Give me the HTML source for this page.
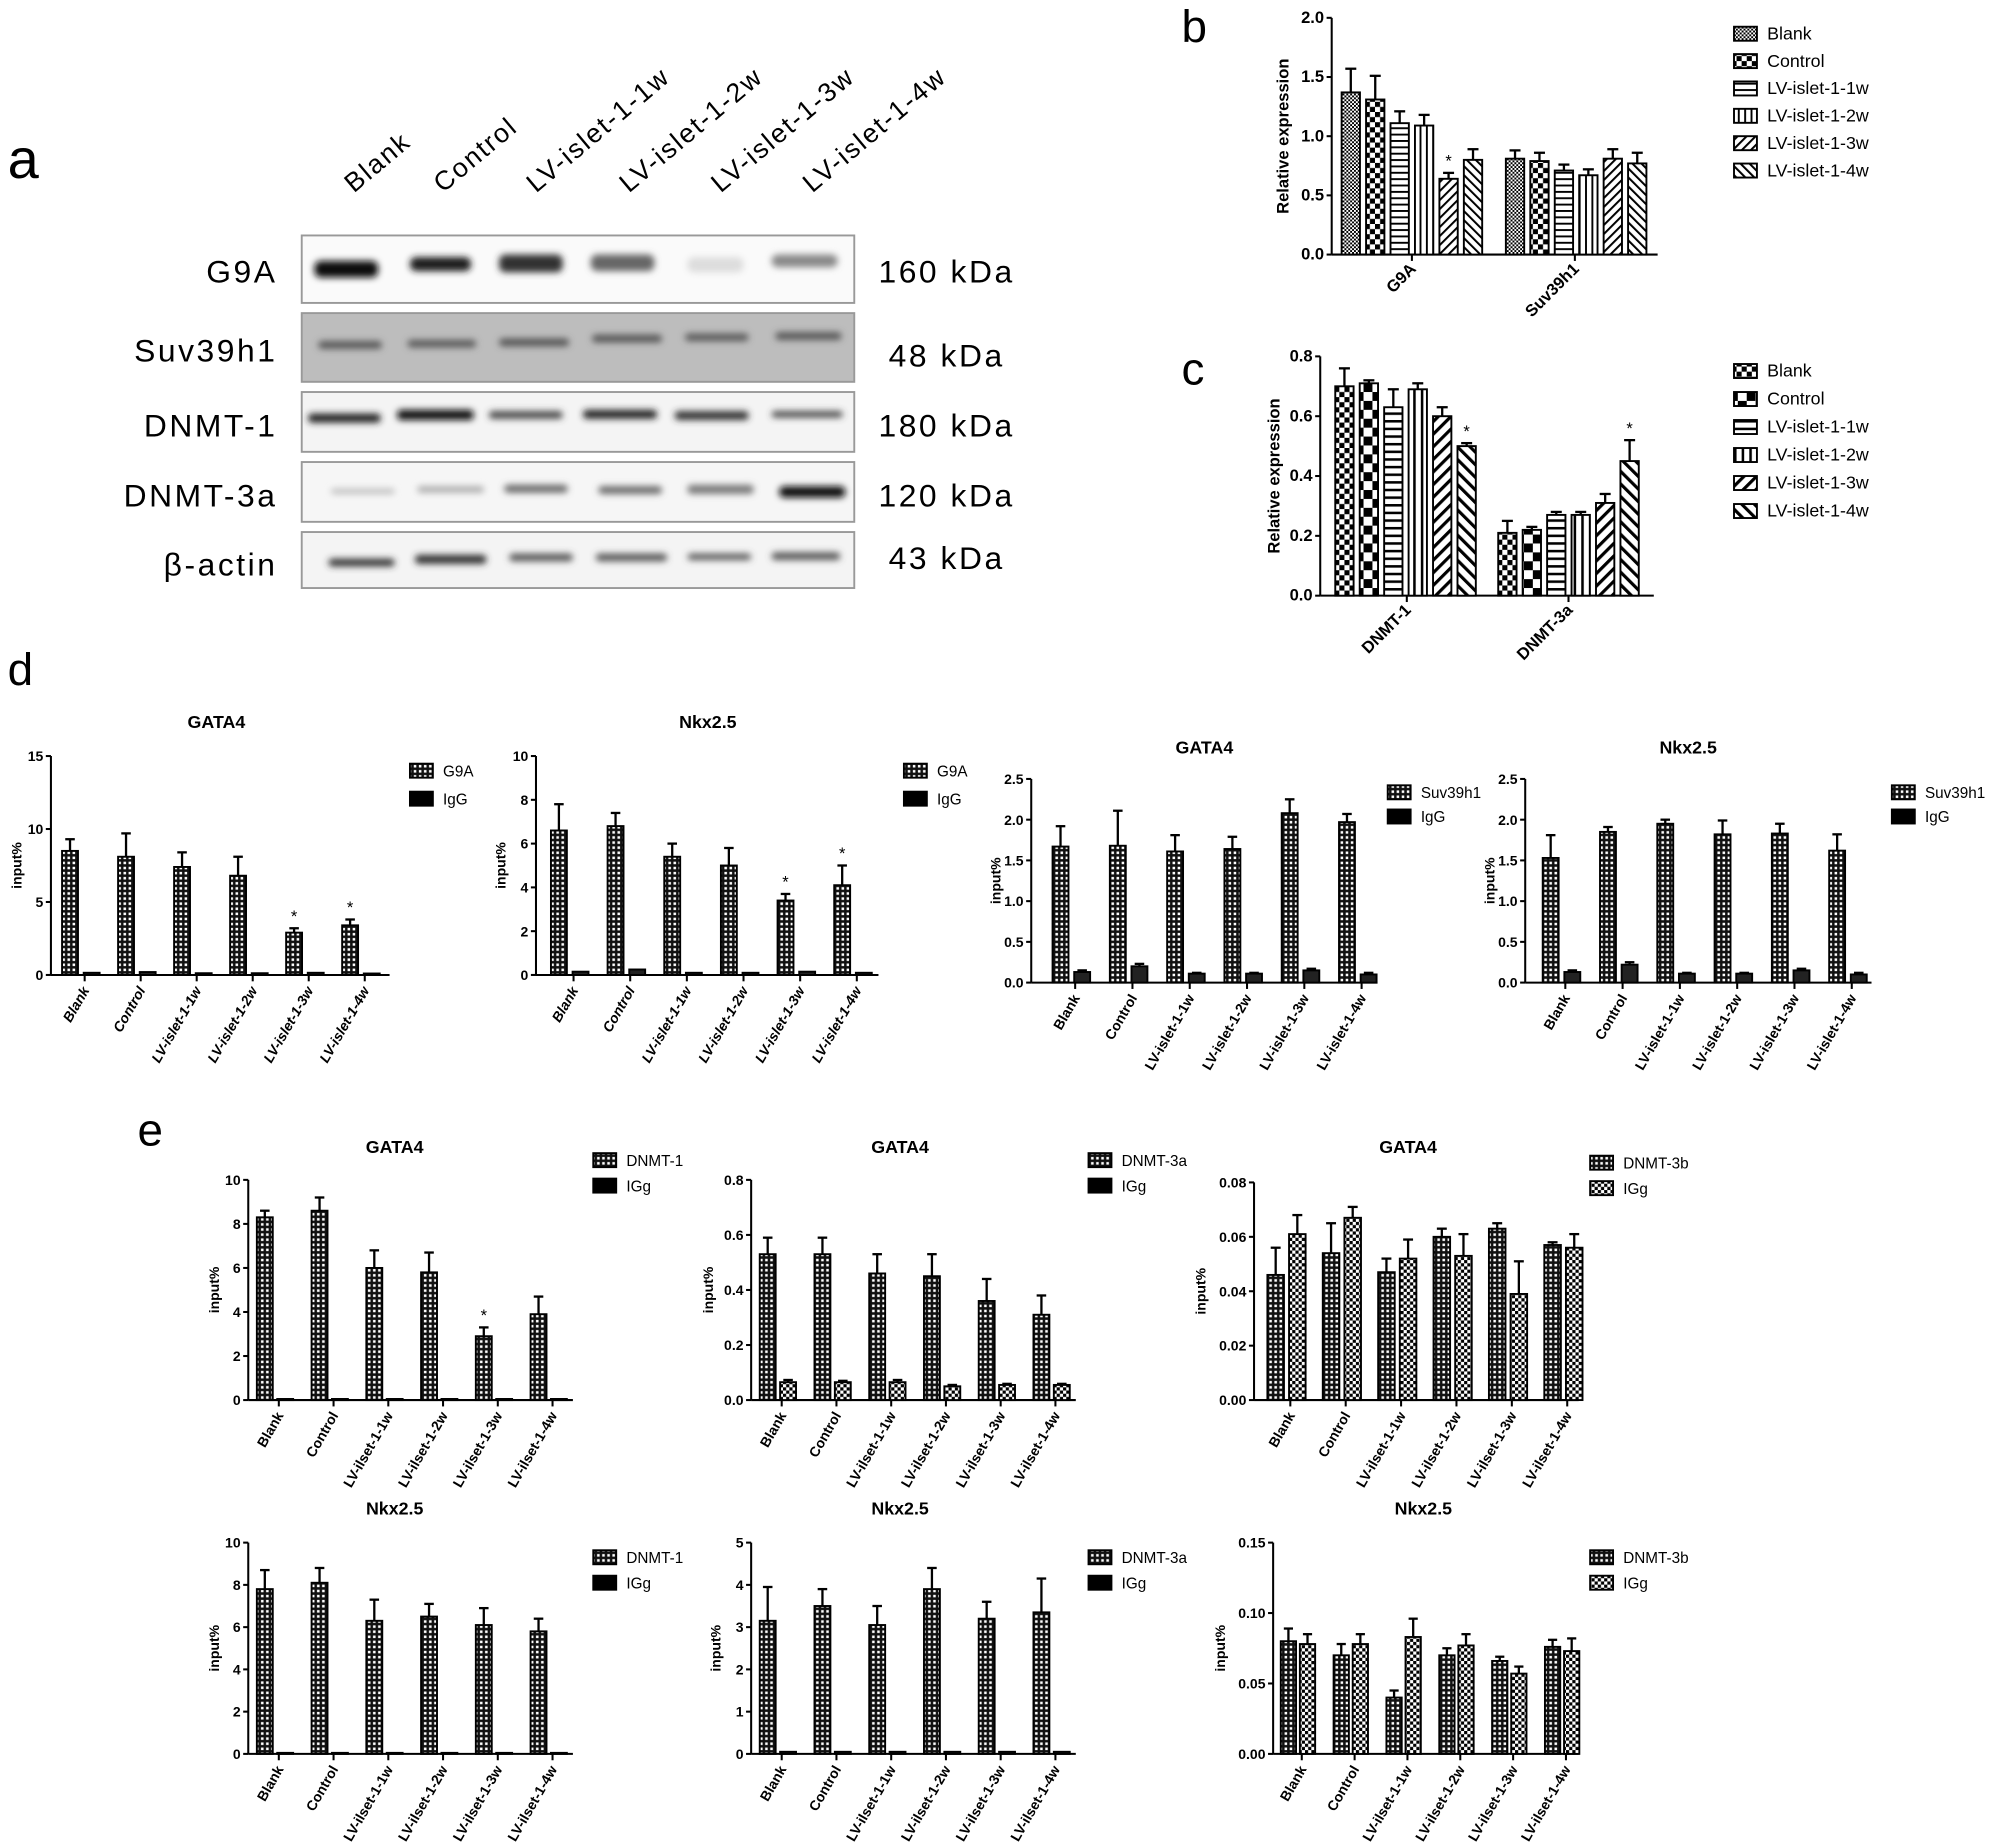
<!DOCTYPE html>
<html><head><meta charset="utf-8">
<style>
html,body{margin:0;padding:0;background:#fff;}
svg{display:block;font-family:"Liberation Sans",Arial,sans-serif;}
</style></head>
<body>
<svg id="s" width="1995" height="1843" viewBox="0 0 1567 1448" preserveAspectRatio="none" xmlns="http://www.w3.org/2000/svg">
<defs>
<pattern id="fine" width="3" height="3" patternUnits="userSpaceOnUse"><rect width="3" height="3" fill="#fff"/><rect width="1.5" height="1.5" fill="#000"/><rect x="1.5" y="1.5" width="1.5" height="1.5" fill="#000"/></pattern>
<pattern id="chk" width="5" height="5" patternUnits="userSpaceOnUse"><rect width="5" height="5" fill="#fff"/><rect width="2.5" height="2.5" fill="#000"/><rect x="2.5" y="2.5" width="2.5" height="2.5" fill="#000"/></pattern>
<pattern id="chk8" width="8" height="8" patternUnits="userSpaceOnUse"><rect width="8" height="8" fill="#fff"/><rect width="4" height="4" fill="#000"/><rect x="4" y="4" width="4" height="4" fill="#000"/></pattern>
<pattern id="chk12" width="14" height="14" patternUnits="userSpaceOnUse"><rect width="14" height="14" fill="#fff"/><rect width="7" height="7" fill="#000"/><rect x="7" y="7" width="7" height="7" fill="#000"/></pattern>
<pattern id="dot" width="4" height="4" patternUnits="userSpaceOnUse"><rect width="4" height="4" fill="#111"/><rect x="1" y="1" width="2" height="2" fill="#fff"/></pattern>
<pattern id="hl" width="6" height="5" patternUnits="userSpaceOnUse"><rect width="6" height="5" fill="#fff"/><rect y="0" width="6" height="1.5" fill="#000"/></pattern>
<pattern id="vl" width="5" height="6" patternUnits="userSpaceOnUse"><rect width="5" height="6" fill="#fff"/><rect x="0" width="1.5" height="6" fill="#000"/></pattern>
<pattern id="d1" width="5" height="5" patternUnits="userSpaceOnUse" patternTransform="rotate(45)"><rect width="5" height="5" fill="#fff"/><rect width="1.6" height="5" fill="#000"/></pattern>
<pattern id="d2" width="5" height="5" patternUnits="userSpaceOnUse" patternTransform="rotate(-45)"><rect width="5" height="5" fill="#fff"/><rect width="1.6" height="5" fill="#000"/></pattern>
<pattern id="d1b" width="7" height="7" patternUnits="userSpaceOnUse" patternTransform="rotate(45)"><rect width="7" height="7" fill="#fff"/><rect width="2.5" height="7" fill="#000"/></pattern>
<pattern id="d2b" width="7" height="7" patternUnits="userSpaceOnUse" patternTransform="rotate(-45)"><rect width="7" height="7" fill="#fff"/><rect width="2.5" height="7" fill="#000"/></pattern>
<pattern id="hlb" width="6" height="6" patternUnits="userSpaceOnUse"><rect width="6" height="6" fill="#fff"/><rect width="6" height="2" fill="#000"/></pattern>
<pattern id="vlb" width="6" height="6" patternUnits="userSpaceOnUse"><rect width="6" height="6" fill="#fff"/><rect width="2" height="6" fill="#000"/></pattern>
<filter id="bl" x="-20%" y="-100%" width="140%" height="300%"><feGaussianBlur stdDeviation="2.8"/></filter>
</defs>

<text x="6" y="140" font-size="44">a</text>
<g font-size="21" letter-spacing="1.5">
<text transform="translate(278,152) rotate(-40)">Blank</text>
<text transform="translate(348,152) rotate(-40)">Control</text>
<text transform="translate(421,152) rotate(-40)">LV-islet-1-1w</text>
<text transform="translate(494,152) rotate(-40)">LV-islet-1-2w</text>
<text transform="translate(566,152) rotate(-40)">LV-islet-1-3w</text>
<text transform="translate(638,152) rotate(-40)">LV-islet-1-4w</text>
</g>
<g stroke="#999" stroke-width="1.5">
<rect x="237" y="185" width="434" height="53" fill="#fafafa"/>
<rect x="237" y="246" width="434" height="54" fill="#bdbdbd"/>
<rect x="237" y="308" width="434" height="47" fill="#f4f4f4"/>
<rect x="237" y="363" width="434" height="47" fill="#f6f6f6"/>
<rect x="237" y="418" width="434" height="44" fill="#f4f4f4"/>
</g>
<g filter="url(#bl)">
<rect x="247" y="205" width="50" height="13" rx="5" fill="#111"/>
<rect x="322" y="202" width="48" height="11" rx="5" fill="#1a1a1a"/>
<rect x="392" y="200" width="50" height="14" rx="5" fill="#333"/>
<rect x="464" y="200" width="50" height="13" rx="5" fill="#666"/>
<rect x="540" y="202" width="44" height="12" rx="5" fill="#ddd"/>
<rect x="606" y="200" width="52" height="10" rx="5" fill="#888"/>
<rect x="250" y="268" width="50" height="6" rx="3" fill="#555"/>
<rect x="320" y="267" width="54" height="6" rx="3" fill="#5a5a5a"/>
<rect x="392" y="266" width="55" height="6" rx="3" fill="#555"/>
<rect x="465" y="263" width="55" height="6" rx="3" fill="#555"/>
<rect x="538" y="262" width="50" height="6" rx="3" fill="#5a5a5a"/>
<rect x="609" y="261" width="52" height="6" rx="3" fill="#555"/>
<rect x="242" y="325" width="57" height="7" rx="3" fill="#222"/>
<rect x="312" y="322" width="60" height="8" rx="3" fill="#111"/>
<rect x="384" y="323" width="58" height="6" rx="3" fill="#444"/>
<rect x="458" y="322" width="58" height="7" rx="3" fill="#222"/>
<rect x="530" y="323" width="58" height="7" rx="3" fill="#333"/>
<rect x="606" y="323" width="56" height="5" rx="3" fill="#444"/>
<rect x="260" y="384" width="50" height="4" rx="2" fill="#bbb"/>
<rect x="328" y="382" width="52" height="5" rx="2" fill="#aaa"/>
<rect x="396" y="381" width="50" height="6" rx="3" fill="#666"/>
<rect x="470" y="382" width="50" height="6" rx="3" fill="#666"/>
<rect x="540" y="381" width="52" height="7" rx="3" fill="#777"/>
<rect x="612" y="382" width="52" height="9" rx="4" fill="#111"/>
<rect x="258" y="439" width="52" height="6" rx="3" fill="#333"/>
<rect x="326" y="436" width="56" height="7" rx="3" fill="#333"/>
<rect x="400" y="435" width="50" height="6" rx="3" fill="#555"/>
<rect x="468" y="435" width="56" height="6" rx="3" fill="#555"/>
<rect x="540" y="435" width="50" height="5" rx="3" fill="#555"/>
<rect x="606" y="434" width="54" height="6" rx="3" fill="#555"/>
</g>
<g font-size="25" letter-spacing="2" text-anchor="end">
<text x="218" y="222">G9A</text>
<text x="218" y="284">Suv39h1</text>
<text x="218" y="343">DNMT-1</text>
<text x="218" y="398">DNMT-3a</text>
<text x="218" y="452">β-actin</text>
</g>
<g font-size="25" letter-spacing="2">
<text x="690" y="222">160 kDa</text>
<text x="698" y="288">48 kDa</text>
<text x="690" y="343">180 kDa</text>
<text x="690" y="398">120 kDa</text>
<text x="698" y="447">43 kDa</text>
</g>
<text x="928" y="33" font-size="36">b</text>
<text x="928" y="302" font-size="36">c</text>
<text x="6" y="538" font-size="36">d</text>
<text x="108" y="900" font-size="36">e</text>
<g id="gen"></g>
</svg>
<script>
var out=[];
function T(x,y,t,o){o=o||{};var a='<text x="'+x+'" y="'+y+'" font-size="'+(o.fs||11)+'"'+(o.b?' font-weight="bold"':'')+(o.i?' font-style="italic"':'')+(o.a?' text-anchor="'+o.a+'"':'')+(o.r!=null?' transform="rotate('+o.r+' '+x+' '+y+')"':'')+'>'+t+'</text>';out.push(a);}
function L(x1,y1,x2,y2,w){out.push('<line x1="'+x1+'" y1="'+y1+'" x2="'+x2+'" y2="'+y2+'" stroke="#000" stroke-width="'+(w||1.6)+'"/>');}
function R(x,y,w,h,f){out.push('<rect x="'+x+'" y="'+y+'" width="'+w+'" height="'+h+'" fill="'+f+'" stroke="#000" stroke-width="1.5"/>');}
function chart(c){
 var Y=function(v){return c.y0-v/c.max*(c.y0-c.yt);};
 L(c.ax,c.yt,c.ax,c.y0);L(c.ax,c.y0,c.xe,c.y0);
 for(var k=0;k<=Math.round(c.max/c.step);k++){var v=k*c.step,y=Y(v);L(c.ax-4,y,c.ax,y);T(c.ax-6,y+4,v.toFixed(c.dec),{a:'end',b:1,fs:c.tfs||11});}
 c.bars.forEach(function(b){var yt=Y(b.v);R(b.x-b.w/2,yt,b.w,c.y0-yt,b.f);
  if(b.e){var ye=Y(b.v+b.e);L(b.x,yt,b.x,ye,1.8);L(b.x-b.w*0.3,ye,b.x+b.w*0.3,ye,1.8);}
  if(b.s){T(b.x,Y(b.v+(b.e||0))-5,'*',{a:'middle',fs:13});}});
 c.ticks.forEach(function(t){L(t.x,c.y0,t.x,c.y0+5);T(t.x+4,c.y0+12,t.l,{a:'end',b:1,i:c.it,fs:c.cfs||11,r:c.rot||-60});});
 if(c.title)T(c.tx,c.ty,c.title,{a:'middle',b:1,fs:14});
 T(c.ylx,(c.yt+c.y0)/2,c.yl,{a:'middle',b:1,fs:c.yfs||11,r:-90});
 c.leg.forEach(function(g,i){var y=c.ly+i*c.ldy;R(c.lx,y-6,18,11,g[0]);T(c.lx+26,y+4,g[1],{fs:c.lfs||12});});
}
var cats=['Blank','Control','LV-islet-1-1w','LV-islet-1-2w','LV-islet-1-3w','LV-islet-1-4w'];
var catsE=['Blank','Control','LV-ilset-1-1w','LV-ilset-1-2w','LV-ilset-1-3w','LV-ilset-1-4w'];
function pair(x0,p,d,w1,w2,v1,e1,f1,v2,e2,f2,st){var bars=[],ticks=[];for(var i=0;i<6;i++){var x=x0+p*i;bars.push({x:x,w:w1,v:v1[i],e:e1[i],f:f1,s:st&&st[i]});bars.push({x:x+d,w:w2,v:v2[i],e:e2?e2[i]:0,f:f2});ticks.push({x:x+d/2+3});}return{bars:bars,ticks:ticks};}
(function(){var f=['url(#fine)','url(#chk8)','url(#hl)','url(#vl)','url(#d1)','url(#d2)'];
var v1=[1.37,1.31,1.11,1.09,0.64,0.80],e1=[.2,.2,.1,.09,.05,.09],v2=[.81,.79,.71,.67,.81,.77],e2=[.07,.07,.05,.05,.08,.09];var bars=[];
for(var i=0;i<6;i++){bars.push({x:1061+19.2*i,w:14.4,v:v1[i],e:e1[i],f:f[i],s:i==4});bars.push({x:1190+19.2*i,w:14.4,v:v2[i],e:e2[i],f:f[i]});}
chart({ax:1046,y0:200,yt:14,max:2,step:.5,dec:1,xe:1302,tfs:13,cfs:13,bars:bars,ticks:[{x:1109,l:'G9A'},{x:1237,l:'Suv39h1'}],rot:-45,ylx:1012,yl:'Relative expression',yfs:13,leg:[[f[0],'Blank'],[f[1],'Control'],[f[2],'LV-islet-1-1w'],[f[3],'LV-islet-1-2w'],[f[4],'LV-islet-1-3w'],[f[5],'LV-islet-1-4w']],lx:1362,ly:27,ldy:21.5,lfs:14});})();
(function(){var f=['url(#chk8)','url(#chk12)','url(#hlb)','url(#vlb)','url(#d1b)','url(#d2b)'];
var v1=[.70,.71,.63,.69,.60,.50],e1=[.06,.01,.06,.02,.03,.01],v2=[.21,.22,.27,.27,.31,.45],e2=[.04,.01,.01,.01,.03,.07];var bars=[];
for(var i=0;i<6;i++){bars.push({x:1056+19.2*i,w:14.4,v:v1[i],e:e1[i],f:f[i],s:i==5});bars.push({x:1184+19.2*i,w:14.4,v:v2[i],e:e2[i],f:f[i],s:i==5});}
chart({ax:1037,y0:468,yt:280,max:.8,step:.2,dec:1,xe:1299,tfs:13,cfs:13,bars:bars,ticks:[{x:1105,l:'DNMT-1'},{x:1232,l:'DNMT-3a'}],rot:-45,ylx:1005,yl:'Relative expression',yfs:13,leg:[[f[0],'Blank'],[f[1],'Control'],[f[2],'LV-islet-1-1w'],[f[3],'LV-islet-1-2w'],[f[4],'LV-islet-1-3w'],[f[5],'LV-islet-1-4w']],lx:1362,ly:292,ldy:22,lfs:14});})();
function mk(c,p,labels){p.ticks.forEach(function(t,i){t.l=labels[i];});c.bars=p.bars;c.ticks=p.ticks;chart(c);}
mk({ax:40,y0:766,yt:594,max:15,step:5,dec:0,xe:306,it:1,title:'GATA4',tx:170,ty:572,ylx:17,yl:'input%',leg:[['url(#dot)','G9A'],['#000','IgG']],lx:322,ly:606,ldy:22},
 pair(55,44,17,12.5,12.5,[8.5,8.1,7.4,6.8,2.9,3.4],[.8,1.6,1,1.3,.3,.4],'url(#dot)',[.15,.2,.12,.12,.15,.1],null,'#222',[0,0,0,0,1,1]),cats);
mk({ax:421,y0:766,yt:594,max:10,step:2,dec:0,xe:690,it:1,title:'Nkx2.5',tx:556,ty:572,ylx:397,yl:'input%',leg:[['url(#dot)','G9A'],['#000','IgG']],lx:710,ly:606,ldy:22},
 pair(439,44.5,17,12.5,12.5,[6.6,6.8,5.4,5.0,3.4,4.1],[1.2,.6,.6,.8,.3,.9],'url(#dot)',[.15,.25,.1,.1,.15,.1],null,'#222',[0,0,0,0,1,1]),cats);
mk({ax:810,y0:772,yt:612,max:2.5,step:.5,dec:1,xe:1082,title:'GATA4',tx:946,ty:592,ylx:786,yl:'input%',leg:[['url(#dot)','Suv39h1'],['#000','IgG']],lx:1090,ly:623,ldy:19},
 pair(833,45,17,12.5,12.5,[1.67,1.68,1.61,1.64,2.08,1.97],[.25,.43,.2,.15,.17,.1],'url(#dot)',[.13,.2,.11,.11,.15,.1],[.02,.03,.01,.01,.02,.02],'#222'),cats);
mk({ax:1198,y0:772,yt:612,max:2.5,step:.5,dec:1,xe:1470,title:'Nkx2.5',tx:1326,ty:592,ylx:1174,yl:'input%',leg:[['url(#dot)','Suv39h1'],['#000','IgG']],lx:1486,ly:623,ldy:19},
 pair(1218,45,17,12.5,12.5,[1.53,1.85,1.95,1.82,1.83,1.62],[.28,.06,.05,.17,.12,.2],'url(#dot)',[.13,.22,.11,.11,.15,.1],[.02,.03,.01,.01,.02,.02],'#222'),cats);
mk({ax:195,y0:1100,yt:927,max:10,step:2,dec:0,xe:450,title:'GATA4',tx:310,ty:906,ylx:172,yl:'input%',leg:[['url(#dot)','DNMT-1'],['#000','IGg']],lx:466,ly:912,ldy:20},
 pair(208,43,16,12.5,12.5,[8.3,8.6,6.0,5.8,2.9,3.9],[.3,.6,.8,.9,.4,.8],'url(#dot)',[.05,.05,.05,.05,.05,.05],null,'#222',[0,0,0,0,1,0]),catsE);
mk({ax:590,y0:1100,yt:927,max:.8,step:.2,dec:1,xe:845,title:'GATA4',tx:707,ty:906,ylx:560,yl:'input%',leg:[['url(#dot)','DNMT-3a'],['#000','IGg']],lx:855,ly:912,ldy:20},
 pair(603,43,16,12.5,12.5,[.53,.53,.46,.45,.36,.31],[.06,.06,.07,.08,.08,.07],'url(#dot)',[.065,.065,.065,.05,.055,.055],[.008,.005,.008,.005,.004,.004],'url(#chk)'),catsE);
mk({ax:985,y0:1100,yt:929,max:.08,step:.02,dec:2,xe:1240,title:'GATA4',tx:1106,ty:906,ylx:947,yl:'input%',leg:[['url(#dot)','DNMT-3b'],['url(#chk)','IGg']],lx:1249,ly:914,ldy:20},
 pair(1002,43.5,17,13,13,[.046,.054,.047,.060,.063,.057],[.01,.011,.005,.003,.002,.001],'url(#dot)',[.061,.067,.052,.053,.039,.056],[.007,.004,.007,.008,.012,.005],'url(#chk)'),catsE);
mk({ax:195,y0:1378,yt:1212,max:10,step:2,dec:0,xe:450,title:'Nkx2.5',tx:310,ty:1190,ylx:172,yl:'input%',leg:[['url(#dot)','DNMT-1'],['#000','IGg']],lx:466,ly:1224,ldy:20},
 pair(208,43,16,12.5,12.5,[7.8,8.1,6.3,6.5,6.1,5.8],[.9,.7,1,.6,.8,.6],'url(#dot)',[.05,.05,.05,.05,.05,.05],null,'#222'),catsE);
mk({ax:590,y0:1378,yt:1212,max:5,step:1,dec:0,xe:845,title:'Nkx2.5',tx:707,ty:1190,ylx:566,yl:'input%',leg:[['url(#dot)','DNMT-3a'],['#000','IGg']],lx:855,ly:1224,ldy:20},
 pair(603,43,16,12.5,12.5,[3.15,3.5,3.05,3.9,3.2,3.35],[.8,.4,.45,.5,.4,.8],'url(#dot)',[.05,.05,.05,.05,.05,.05],null,'#222'),catsE);
mk({ax:1000,y0:1378,yt:1212,max:.15,step:.05,dec:2,xe:1240,title:'Nkx2.5',tx:1118,ty:1190,ylx:962,yl:'input%',leg:[['url(#dot)','DNMT-3b'],['url(#chk)','IGg']],lx:1249,ly:1224,ldy:20},
 pair(1012,41.5,15,12,12,[.080,.070,.040,.070,.066,.076],[.009,.008,.005,.005,.003,.005],'url(#dot)',[.078,.078,.083,.077,.057,.073],[.007,.007,.013,.008,.005,.009],'url(#chk)'),catsE);
document.getElementById('gen').innerHTML=out.join('');
</script>
</body></html>
